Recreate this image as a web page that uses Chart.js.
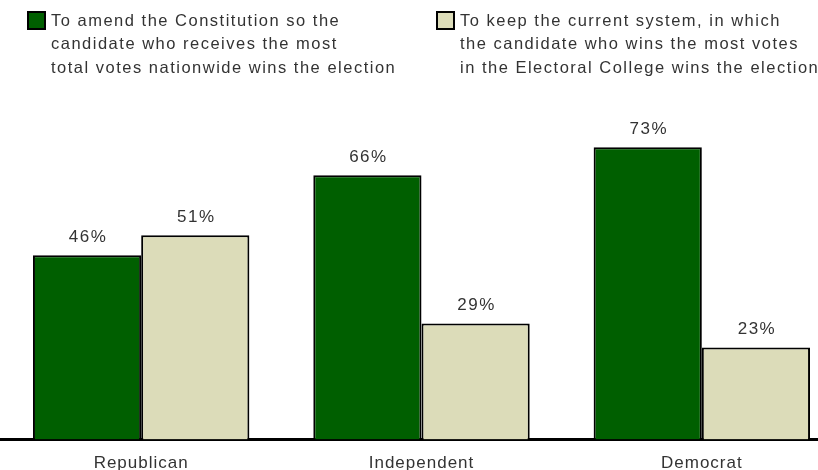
<!DOCTYPE html>
<html>
<head>
<meta charset="utf-8">
<script src="https://cdn.jsdelivr.net/npm/chart.js@4.4.1/dist/chart.umd.min.js"></script>
<style>
  html, body { margin: 0; padding: 0; background: #fff; overflow: hidden; }
  #wrap { position: relative; width: 842px; height: 488px; }
</style>
</head>
<body>
<div id="wrap"><canvas id="voteChart"></canvas></div>
<script>
var categories = ['Republican', 'Independent', 'Democrat'];
var amendValues = [46, 66, 73];
var keepValues = [51, 29, 23];
var amendLabel = ['To amend the Constitution so the', 'candidate who receives the most', 'total votes nationwide wins the election'];
var keepLabel = ['To keep the current system, in which', 'the candidate who wins the most votes', 'in the Electoral College wins the election'];

var GREEN = '#005f00';
var TAN = '#dcdcb9';
var FONT = '"Liberation Sans", Arial, sans-serif';

// the source text is a bit wide, so space the letters out a little
var spacing = {
  id: 'spacing',
  beforeDraw: function(chart) {
    chart.ctx.letterSpacing = '1px';
  }
};

// legend with multi-line labels, drawn on the canvas
var legendPlugin = {
  id: 'multiLegend',
  afterDraw: function(chart) {
    var ctx = chart.ctx;
    var items = [
      { x: 28, color: GREEN, lines: amendLabel },
      { x: 437, color: TAN, lines: keepLabel }
    ];
    ctx.save();
    ctx.font = '16.5px ' + FONT;
    ctx.letterSpacing = '1.5px';
    ctx.textBaseline = 'middle';
    ctx.textAlign = 'left';
    items.forEach(function(it) {
      ctx.fillStyle = it.color;
      ctx.fillRect(it.x, 12, 17, 17);
      ctx.lineWidth = 2;
      ctx.strokeStyle = '#000';
      ctx.strokeRect(it.x, 12, 17, 17);
      ctx.fillStyle = '#333';
      it.lines.forEach(function(line, i) {
        ctx.fillText(line, it.x + 23, 21 + i * 23.5);
      });
    });
    ctx.restore();
  }
};

// percentage labels above each bar
var valueLabels = {
  id: 'valueLabels',
  afterDatasetsDraw: function(chart) {
    var ctx = chart.ctx;
    ctx.save();
    ctx.font = '17px ' + FONT;
    ctx.letterSpacing = '1.5px';
    ctx.fillStyle = '#333';
    ctx.textAlign = 'center';
    ctx.textBaseline = 'middle';
    chart.data.datasets.forEach(function(ds, di) {
      chart.getDatasetMeta(di).data.forEach(function(bar, i) {
        ctx.fillText(ds.data[i] + '%', bar.x + 1, bar.y - 18);
      });
    });
    ctx.restore();
  }
};

new Chart(document.getElementById('voteChart'), {
  type: 'bar',
  data: {
    labels: categories,
    datasets: [{
      label: amendLabel.join(' '),
      data: amendValues,
      backgroundColor: GREEN,
      borderColor: '#000',
      borderWidth: 2,
      borderSkipped: 'bottom'
    }, {
      label: keepLabel.join(' '),
      data: keepValues,
      backgroundColor: TAN,
      borderColor: '#000',
      borderWidth: 2,
      borderSkipped: 'bottom'
    }]
  },
  options: {
    responsive: true,
    maintainAspectRatio: false,
    animation: false,
    layout: { padding: { top: 39, left: 1, right: 0, bottom: 0 } },
    datasets: {
      bar: { categoryPercentage: 0.772, barPercentage: 1.0 }
    },
    scales: {
      x: {
        grid: { display: false, drawTicks: false },
        border: { display: true, color: '#000', width: 3 },
        ticks: {
          color: '#333',
          padding: 14,
          font: { size: 17, family: FONT }
        }
      },
      y: {
        display: false,
        min: 0,
        max: 100
      }
    },
    plugins: {
      legend: { display: false },
      tooltip: { enabled: false }
    }
  },
  plugins: [spacing, legendPlugin, valueLabels]
});
</script>
</body>
</html>
